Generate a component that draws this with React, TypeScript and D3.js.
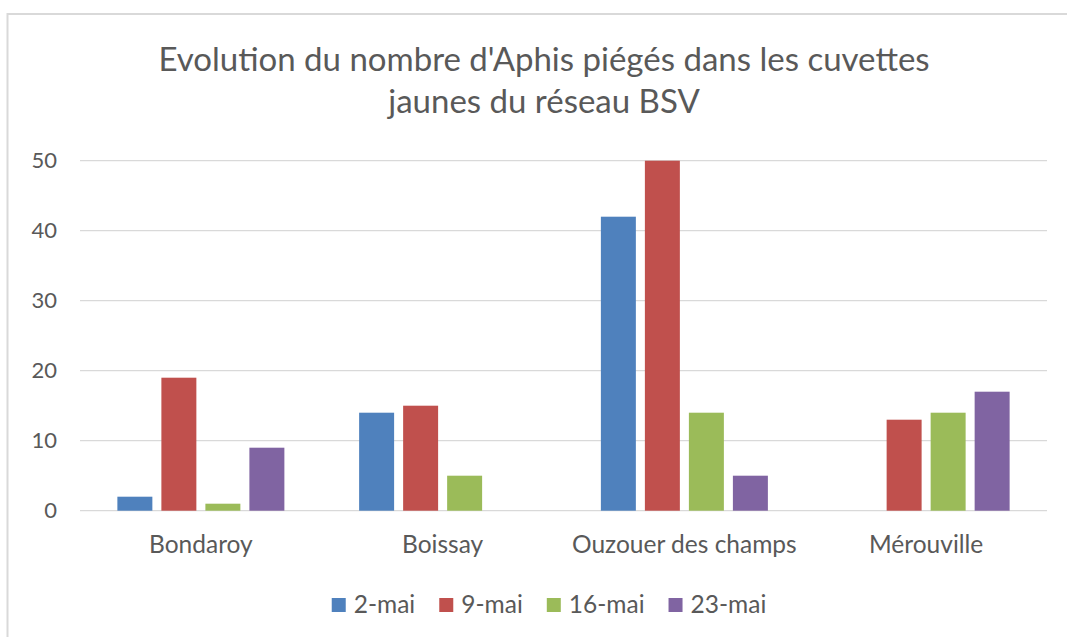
import React, { useEffect, useRef } from "react";
import * as d3 from "d3";

const sites = ["Bondaroy", "Boissay", "Ouzouer des champs", "Mérouville"];
const dates = ["2-mai", "9-mai", "16-mai", "23-mai"];
const colors = ["#4F81BD", "#C0504D", "#9BBB59", "#8064A2"];
const may2 = [2, 14, 42, 0];
const may9 = [19, 15, 50, 13];
const may16 = [1, 5, 14, 14];
const may23 = [9, 0, 5, 17];
const yTicks = [0, 10, 20, 30, 40, 50];
const titleLines = [
  "Evolution du nombre d'Aphis piégés dans les cuvettes",
  "jaunes du réseau BSV",
];

const W = 1067;
const H = 637;
const FONT = "Lato, 'Open Sans', sans-serif";
const TEXT = "#595959";

export default function App() {
  const ref = useRef<SVGSVGElement>(null);

  useEffect(() => {
    const svg = d3.select(ref.current);
    svg.selectAll("*").remove();

    const series = [may2, may9, may16, may23];
    const margin = { left: 80, right: 20, top: 160.7, bottom: 126.3 };

    // chart frame: only top and left edges show
    svg
      .append("path")
      .attr("d", "M7.5," + H + "V14H" + W)
      .attr("fill", "none")
      .attr("stroke", "#D9D9D9")
      .attr("stroke-width", 2);

    // title
    svg
      .append("text")
      .attr("text-anchor", "middle")
      .attr("font-family", FONT)
      .attr("font-size", 33)
      .attr("fill", TEXT)
      .selectAll("tspan")
      .data(titleLines)
      .enter()
      .append("tspan")
      .attr("x", 544)
      .attr("y", (d, i) => 71 + i * 42)
      .text((d) => d);

    const x0 = d3
      .scaleBand()
      .domain(sites)
      .range([margin.left, W - margin.right])
      .padding(0);
    const groupW = 167;
    const x1 = d3
      .scaleBand()
      .domain(dates)
      .range([(x0.bandwidth() - groupW) / 2, (x0.bandwidth() + groupW) / 2])
      .paddingInner(0.205)
      .paddingOuter(0);
    const y = d3
      .scaleLinear()
      .domain([0, 50])
      .range([H - margin.bottom, margin.top]);

    // gridlines
    svg
      .append("g")
      .selectAll("line")
      .data(yTicks)
      .enter()
      .append("line")
      .attr("x1", margin.left)
      .attr("x2", W - margin.right)
      .attr("y1", (d) => y(d))
      .attr("y2", (d) => y(d))
      .attr("stroke", "#D9D9D9")
      .attr("stroke-width", 1.3);

    // y labels
    svg
      .append("g")
      .selectAll("text")
      .data(yTicks)
      .enter()
      .append("text")
      .attr("x", 57)
      .attr("y", (d) => y(d) + 7.5)
      .attr("text-anchor", "end")
      .attr("font-family", FONT)
      .attr("font-size", 22)
      .attr("fill", TEXT)
      .text((d) => d);

    // bars
    const groups = svg
      .append("g")
      .selectAll("g")
      .data(sites)
      .enter()
      .append("g")
      .attr("transform", (d) => "translate(" + x0(d) + ",0)");
    groups
      .selectAll("rect")
      .data((d, i) => dates.map((dt, j) => ({ dt, j, v: series[j][i] })))
      .enter()
      .append("rect")
      .attr("x", (d) => x1(d.dt) as number)
      .attr("width", x1.bandwidth())
      .attr("y", (d) => y(d.v))
      .attr("height", (d) => y(0) - y(d.v))
      .attr("fill", (d) => colors[d.j]);

    // category labels
    svg
      .append("g")
      .selectAll("text")
      .data(sites)
      .enter()
      .append("text")
      .attr("x", (d) => (x0(d) as number) + x0.bandwidth() / 2)
      .attr("y", 553)
      .attr("text-anchor", "middle")
      .attr("font-family", FONT)
      .attr("font-size", 24.5)
      .attr("fill", TEXT)
      .text((d) => d);

    // legend
    const legend = svg.append("g");
    const items = legend
      .selectAll("g")
      .data(dates)
      .enter()
      .append("g");
    items
      .append("rect")
      .attr("width", 14)
      .attr("height", 14)
      .attr("y", 598)
      .attr("fill", (d, i) => colors[i]);
    items
      .append("text")
      .attr("x", 22)
      .attr("y", 613)
      .attr("font-family", FONT)
      .attr("font-size", 24.5)
      .attr("fill", TEXT)
      .text((d) => d);
    let cx = 0;
    const offsets: number[] = [];
    items.each(function () {
      const t = d3.select(this).select("text").node() as SVGTextElement;
      offsets.push(cx);
      cx += 22 + t.getComputedTextLength() + 24;
    });
    const total = cx - 24;
    const start = 549 - total / 2;
    items.attr("transform", (d, i) => "translate(" + (start + offsets[i]) + ",0)");
  }, []);

  return (
    <svg
      ref={ref}
      width={W}
      height={H}
      style={{ position: "absolute", left: 0, top: 0, background: "#fff" }}
    />
  );
}
